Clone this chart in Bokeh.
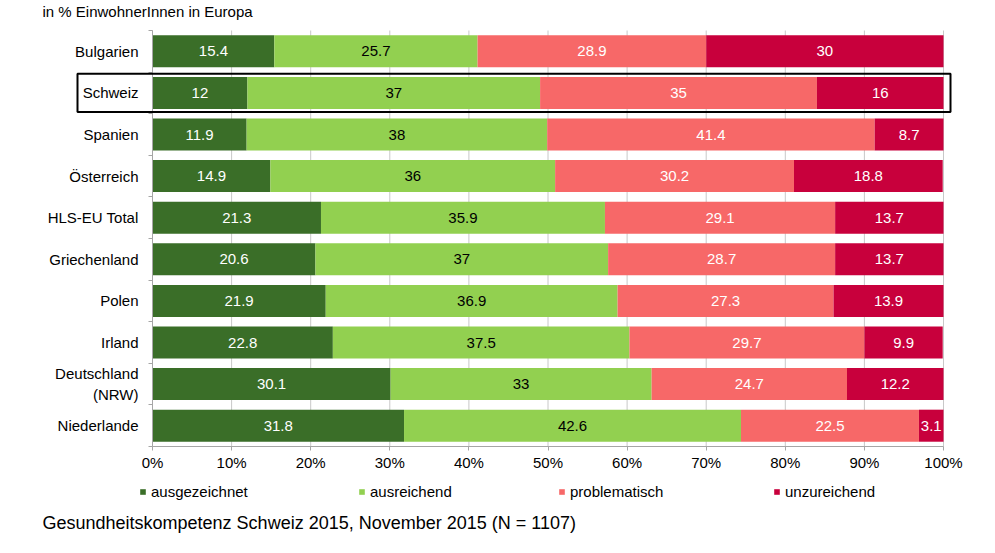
from bokeh.plotting import figure
from bokeh.models import (ColumnDataSource, Range1d, FixedTicker, PrintfTickFormatter,
                          Legend, LegendItem, BoxAnnotation, Label, LinearAxis)
from bokeh.core.properties import value
from bokeh.embed import file_html
from bokeh.resources import INLINE

countries = ["Bulgarien", "Schweiz", "Spanien", "Österreich", "HLS-EU Total",
             "Griechenland", "Polen", "Irland", "Deutschland\n(NRW)", "Niederlande"]
ausgezeichnet = [15.4, 12, 11.9, 14.9, 21.3, 20.6, 21.9, 22.8, 30.1, 31.8]
ausreichend = [25.7, 37, 38, 36, 35.9, 37, 36.9, 37.5, 33, 42.6]
problematisch = [28.9, 35, 41.4, 30.2, 29.1, 28.7, 27.3, 29.7, 24.7, 22.5]
unzureichend = [30, 16, 8.7, 18.8, 13.7, 13.7, 13.9, 9.9, 12.2, 3.1]
series_names = ["ausgezeichnet", "ausreichend", "problematisch", "unzureichend"]
colors = ["#3a6e28", "#92d050", "#f76868", "#c8003c"]
label_colors = ["white", "black", "white", "white"]
x_ticks = [0, 10, 20, 30, 40, 50, 60, 70, 80, 90, 100]
highlight = "Schweiz"
title_text = "in % EinwohnerInnen in Europa"
footer_text = "Gesundheitskompetenz Schweiz 2015, November 2015 (N = 1107)"

FONT = "Liberation Sans"
AXIS_GREY = "#a6a6a6"
GRID_GREY = "#c8c8c8"
n = len(countries)
ys = [n - 1 - i for i in range(n)]
series = [ausgezeichnet, ausreichend, problematisch, unzureichend]

# layout geometry (pixels); the frame covers the whole canvas
W, H = 979, 537
ZERO_PX, HUNDRED_PX = 152, 943      # x of 0% and 100%
TOP_PX, BOTTOM_PX = 30, 446         # y of category band top / bottom
ppu = (HUNDRED_PX - ZERO_PX) / 100.0
ppr = (BOTTOM_PX - TOP_PX) / float(n)
x_start = -ZERO_PX / ppu
x_end = (W - ZERO_PX) / ppu
y_start = -0.5 - (H - BOTTOM_PX) / ppr
y_end = n - 0.5 + TOP_PX / ppr


def px_x(px):
    return (px - ZERO_PX) / ppu


def px_y(py):
    return -0.5 + (BOTTOM_PX - py) / ppr


data = dict(y=ys)
for name, vals in zip(series_names, series):
    data[name] = vals
src = ColumnDataSource(data)

p = figure(width=W, height=H, output_backend="svg", toolbar_location=None,
           x_range=Range1d(x_start, x_end), y_range=Range1d(y_start, y_end),
           x_axis_location=None, y_axis_location=None,
           min_border_left=0, min_border_right=0, min_border_top=0, min_border_bottom=0)
p.outline_line_color = None
p.background_fill_color = "white"
p.border_fill_color = "white"
p.xgrid.visible = False
p.ygrid.visible = False

# vertical grid lines limited to the category band
nt = len(x_ticks)
p.segment(x0=x_ticks, x1=x_ticks, y0=[-0.5] * nt, y1=[n - 0.5] * nt,
          line_color=GRID_GREY, line_width=1)

renderers = p.hbar_stack(series_names, y="y", height=0.77, color=colors,
                         line_color=None, source=src)

# value labels
lx, ly, lt, lc = [], [], [], []
for i in range(n):
    cum = 0.0
    for s, vals in enumerate(series):
        v = vals[i]
        lx.append(cum + v / 2)
        ly.append(ys[i])
        lt.append("%g" % v)
        lc.append(label_colors[s])
        cum += v
lsrc = ColumnDataSource(dict(x=lx, y=ly, t=lt, c=lc))
p.text(x="x", y="y", text="t", source=lsrc, text_color="c",
       text_align="center", text_baseline="middle",
       text_font=value(FONT), text_font_size="15px")

# x axis drawn at the bottom of the category band
xaxis = LinearAxis(fixed_location=-0.5, bounds=(0, 100),
                   ticker=FixedTicker(ticks=x_ticks),
                   formatter=PrintfTickFormatter(format="%d%%"),
                   major_tick_out=4, major_tick_in=0,
                   minor_tick_line_color=None, major_label_standoff=3,
                   axis_line_color=AXIS_GREY, major_tick_line_color=AXIS_GREY,
                   major_label_text_font=FONT, major_label_text_font_size="15px",
                   major_label_text_color="black")
p.add_layout(xaxis, "below")

# category axis at x = 0, ticks between categories
yaxis = LinearAxis(fixed_location=0, bounds=(-0.5, n - 0.5),
                   ticker=FixedTicker(ticks=ys, minor_ticks=[k + 0.5 for k in range(-1, n)]),
                   major_label_overrides={y: c for y, c in zip(ys, countries)},
                   major_tick_out=0, major_tick_in=0,
                   minor_tick_out=4, minor_tick_in=0,
                   minor_tick_line_color=AXIS_GREY, axis_line_color=AXIS_GREY,
                   major_label_standoff=10,
                   major_label_text_font=FONT, major_label_text_font_size="15px",
                   major_label_text_color="black")
p.add_layout(yaxis, "left")

# highlight box around Schweiz row
hy = ys[countries.index(highlight)]
box = BoxAnnotation(left=px_x(77), right=px_x(950),
                    bottom=hy - 0.46, top=hy + 0.46,
                    fill_alpha=0, line_color="black", line_alpha=1, line_width=2)
p.add_layout(box)

# legend entries below the axis (inside the frame)
legend_left_px = [139, 358, 558, 773]
for nm, r, lx_px in zip(series_names, renderers, legend_left_px):
    lg = Legend(items=[LegendItem(label=nm, renderers=[r])], orientation="horizontal",
                location=(lx_px, H - 500),
                glyph_width=7, glyph_height=7, label_standoff=5,
                label_height=16, spacing=0, padding=0, margin=0,
                border_line_color=None, background_fill_alpha=0,
                label_text_font=FONT, label_text_font_size="15px",
                label_text_color="black")
    p.add_layout(lg)

# title and footer
p.add_layout(Label(x=px_x(42), y=px_y(11), text=title_text, text_baseline="middle",
                   text_font=FONT, text_font_size="15px", text_color="black"))
p.add_layout(Label(x=px_x(42), y=px_y(522), text=footer_text, text_baseline="middle",
                   text_font=FONT, text_font_size="18px", text_color="black"))

open("out.html", "w").write(file_html(p, INLINE))
